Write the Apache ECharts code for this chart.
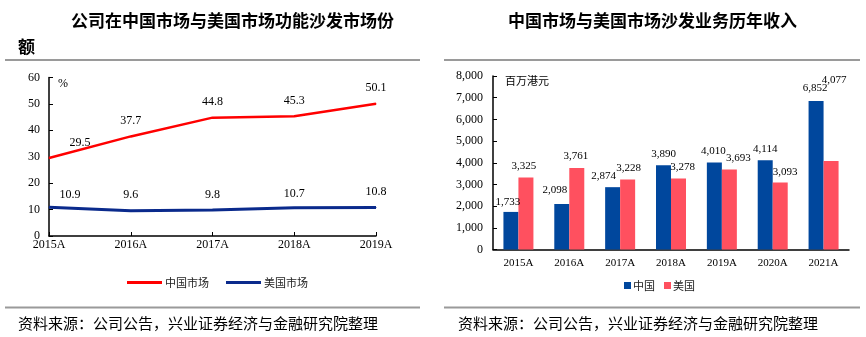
<!DOCTYPE html>
<html>
<head>
<meta charset="utf-8">
<script src="https://cdn.jsdelivr.net/npm/echarts@6/dist/echarts.min.js"></script>
<style>
html,body{margin:0;padding:0;background:#fff;}
#c{width:866px;height:337px;}
</style>
</head>
<body>
<div id="c"></div>
<script>
// ---- data ----
const lineCats = ['2015A', '2016A', '2017A', '2018A', '2019A'];
const chinaShare = [29.5, 37.7, 44.8, 45.3, 50.1];
const usShare = [10.9, 9.6, 9.8, 10.7, 10.8];
const shareTicks = [0, 10, 20, 30, 40, 50, 60];

const barCats = ['2015A', '2016A', '2017A', '2018A', '2019A', '2020A', '2021A'];
const chinaRev = [1733, 2098, 2874, 3890, 4010, 4114, 6852];
const usRev = [3325, 3761, 3228, 3278, 3693, 3093, 4077];
const revTicks = [0, 1000, 2000, 3000, 4000, 5000, 6000, 7000, 8000];

// ---- label nudges (styling only) ----
const chinaShareShift = [[31, 0], [0, 0], [0, 0], [0, 0], [0, 0]];
const usShareShift = [[21, 3], [0, 0], [0, 0], [0, 2], [0, 0]];
const chinaRevShift = [[-3, 2], [-7, -2], [-9, 0], [0, 0], [-1, 0], [0, 0], [-1, -1]];
const usRevShift = [[-2, 0], [-1, 0], [1, 0], [4, 0], [9, 0], [5, 1], [3, -69]];

const serif = '"Liberation Serif", "Times New Roman", serif';
const cjk = '"Noto Sans CJK SC", sans-serif';
const fmt = v => Number(v).toLocaleString('en-US');

const withShift = (vals, shifts) => vals.map((v, i) => ({ value: v, label: { offset: shifts[i] } }));

const chart = echarts.init(document.getElementById('c'), null, { renderer: 'canvas' });

const axisLineStyle = { color: '#000', width: 1.5 };

const option = {
  backgroundColor: '#fff',
  animation: false,
  title: [
    { text: '公司在中国市场与美国市场功能沙发市场份', left: 66, top: 7,
      textStyle: { fontFamily: cjk, fontSize: 17, fontWeight: 'bold', color: '#000' } },
    { text: '额', left: 13, top: 33,
      textStyle: { fontFamily: cjk, fontSize: 17, fontWeight: 'bold', color: '#000' } },
    { text: '中国市场与美国市场沙发业务历年收入', left: 503, top: 7,
      textStyle: { fontFamily: cjk, fontSize: 17, fontWeight: 'bold', color: '#000' } },
    { text: '资料来源：公司公告，兴业证券经济与金融研究院整理', left: 13, top: 311,
      textStyle: { fontFamily: cjk, fontSize: 15, fontWeight: 'normal', color: '#000' } },
    { text: '资料来源：公司公告，兴业证券经济与金融研究院整理', left: 453, top: 311,
      textStyle: { fontFamily: cjk, fontSize: 15, fontWeight: 'normal', color: '#000' } }
  ],
  graphic: [
    { type: 'line', shape: { x1: 5, y1: 60, x2: 420, y2: 60 }, style: { stroke: '#9a9a9a', lineWidth: 2 } },
    { type: 'line', shape: { x1: 444, y1: 60, x2: 860, y2: 60 }, style: { stroke: '#9a9a9a', lineWidth: 2 } },
    { type: 'line', shape: { x1: 5, y1: 307.5, x2: 420, y2: 307.5 }, style: { stroke: '#9a9a9a', lineWidth: 2 } },
    { type: 'line', shape: { x1: 444, y1: 307.5, x2: 860, y2: 307.5 }, style: { stroke: '#9a9a9a', lineWidth: 2 } },
    { type: 'text', left: 58, top: 78, style: { text: '%', font: '12px ' + serif, fill: '#000' } },
    { type: 'text', left: 505, top: 75, style: { text: '百万港元', font: '11px ' + cjk, fill: '#000' } }
  ],
  legend: [
    {
      left: 122, top: 272, itemWidth: 35, itemHeight: 3, itemGap: 17,
      data: [{ name: '中国市场', icon: 'rect' }, { name: '美国市场', icon: 'rect' }],
      textStyle: { fontFamily: cjk, fontSize: 11, color: '#222', padding: [0, 0, 0, -2] }
    },
    {
      left: 619, top: 275, itemWidth: 7, itemHeight: 7, itemGap: 9,
      data: [{ name: '中国', icon: 'rect' }, { name: '美国', icon: 'rect' }],
      textStyle: { fontFamily: cjk, fontSize: 11, color: '#222', padding: [0, 0, 0, -3] }
    }
  ],
  grid: [
    { left: 49, top: 77.5, width: 327, height: 158.5 },
    { left: 493, top: 76, width: 356, height: 173.5 }
  ],
  xAxis: [
    {
      type: 'category', gridIndex: 0, data: lineCats, boundaryGap: false,
      axisLine: { lineStyle: axisLineStyle },
      axisTick: { show: true, inside: true, length: 4, lineStyle: { color: '#000' } },
      axisLabel: { fontFamily: serif, fontSize: 12, color: '#000', margin: 3 }
    },
    {
      type: 'category', gridIndex: 1, data: barCats,
      axisLine: { lineStyle: axisLineStyle },
      axisTick: { show: false },
      axisLabel: { fontFamily: serif, fontSize: 11, color: '#000', margin: 8 }
    }
  ],
  yAxis: [
    {
      type: 'value', gridIndex: 0, min: shareTicks[0], max: shareTicks[shareTicks.length - 1], interval: 10,
      axisLine: { show: true, lineStyle: axisLineStyle },
      axisTick: { show: true, inside: true, length: 4, lineStyle: { color: '#000' } },
      splitLine: { show: false },
      axisLabel: { fontFamily: serif, fontSize: 12, color: '#000', margin: 9 }
    },
    {
      type: 'value', gridIndex: 1, min: revTicks[0], max: revTicks[revTicks.length - 1], interval: 1000,
      axisLine: { show: true, lineStyle: axisLineStyle },
      axisTick: { show: true, inside: true, length: 4, lineStyle: { color: '#000' } },
      splitLine: { show: false },
      axisLabel: { fontFamily: serif, fontSize: 12, color: '#000', margin: 10, formatter: fmt }
    }
  ],
  series: [
    {
      name: '中国市场', type: 'line', xAxisIndex: 0, yAxisIndex: 0,
      data: withShift(chinaShare, chinaShareShift),
      symbol: 'circle', symbolSize: 1, color: '#ff0000',
      lineStyle: { color: '#ff0000', width: 2.5 },
      label: { show: true, position: 'top', distance: 9, fontFamily: serif, fontSize: 12, color: '#000',
        formatter: p => p.value.toFixed(1) }
    },
    {
      name: '美国市场', type: 'line', xAxisIndex: 0, yAxisIndex: 0,
      data: withShift(usShare, usShareShift),
      symbol: 'circle', symbolSize: 1, color: '#0a2a8c',
      lineStyle: { color: '#0a2a8c', width: 3 },
      label: { show: true, position: 'top', distance: 9, fontFamily: serif, fontSize: 12, color: '#000',
        formatter: p => p.value.toFixed(1) }
    },
    {
      name: '中国', type: 'bar', xAxisIndex: 1, yAxisIndex: 1,
      data: withShift(chinaRev, chinaRevShift),
      barWidth: 15, barGap: '0%', color: '#00479d',
      label: { show: true, position: 'top', distance: 6, fontFamily: serif, fontSize: 11, color: '#000',
        formatter: p => fmt(p.value) }
    },
    {
      name: '美国', type: 'bar', xAxisIndex: 1, yAxisIndex: 1,
      data: withShift(usRev, usRevShift),
      barWidth: 15, barGap: '0%', color: '#ff505f',
      label: { show: true, position: 'top', distance: 6, fontFamily: serif, fontSize: 11, color: '#000',
        formatter: p => fmt(p.value) }
    }
  ]
};

chart.setOption(option);
</script>
</body>
</html>
